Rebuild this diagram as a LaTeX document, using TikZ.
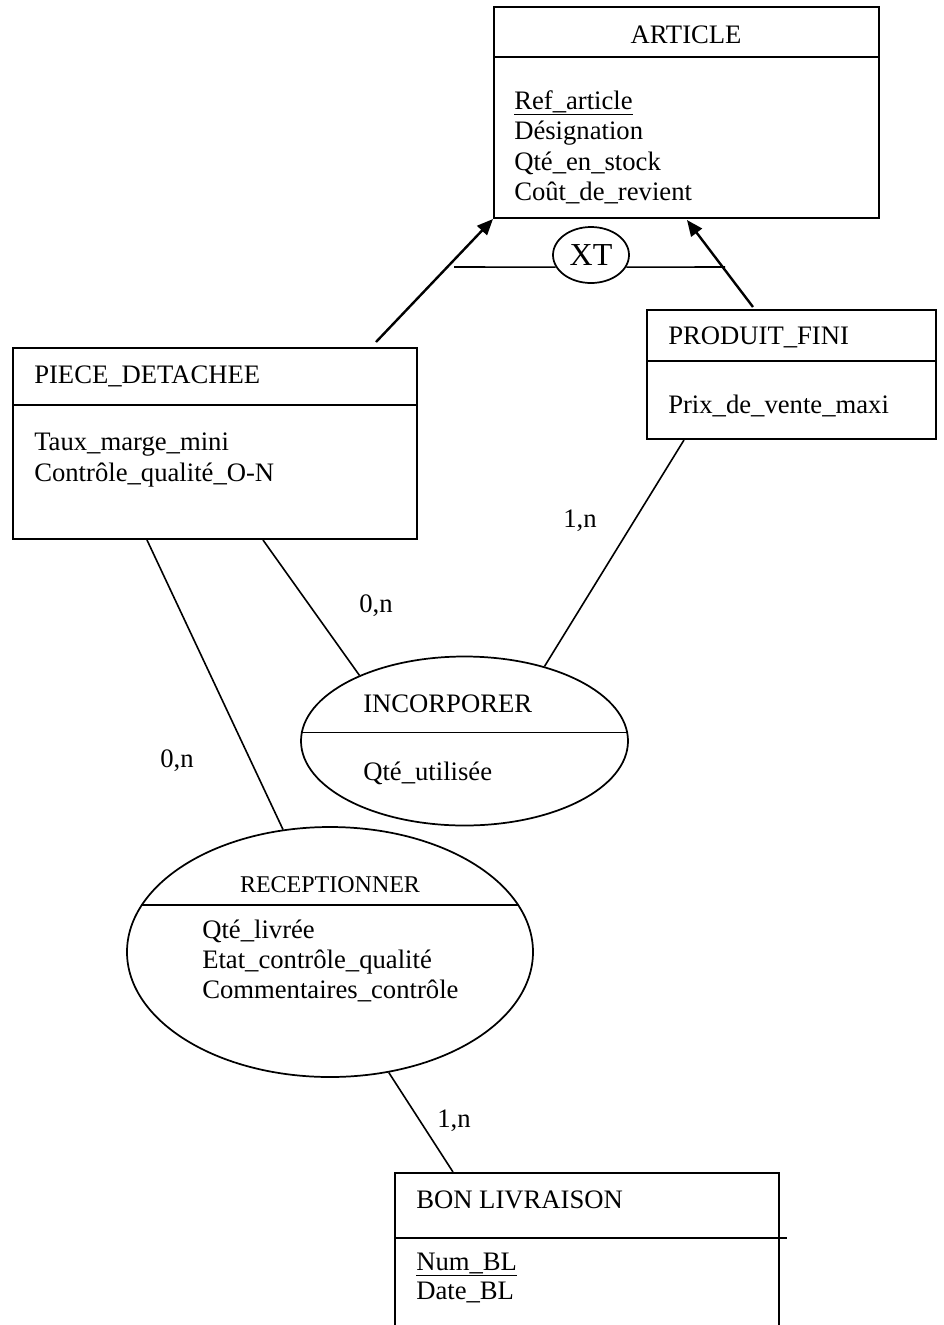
\documentclass[tikz,border=0pt]{standalone}
\usepackage{fontspec}
\setmainfont{Liberation Serif}
\usetikzlibrary{arrows.meta,fit,shapes.geometric,calc}

\begin{document}
\begin{tikzpicture}[x=.75pt,y=-.75pt,
 ent/.style={draw,line width=1.5pt,inner sep=0pt},
 rel/.style={ellipse,draw,line width=1.3pt,inner sep=0pt},
 t/.style={inner sep=0pt,anchor=base west,font=\fontsize{20}{24}\selectfont},
 c/.style={inner sep=0pt,anchor=base,font=\fontsize{20}{24}\selectfont},
 l/.style={line width=1.2pt},
 a/.style={-{Triangle[length=12pt,width=10pt]},line width=1.8pt}]
\useasboundingbox (0,0) rectangle (944,1325);
\clip (0,0) rectangle (944,1325);
% entities
\node[ent,fit={(494,7) (879,218)}] (article) {};
\node[ent,fit={(13,348) (417,539)}] (piece) {};
\node[ent,fit={(647,310) (936,439)}] (produit) {};
\node[ent,fit={(395,1173) (779,1340)}] (bon) {};
\draw[ent] ($(article.north west)+(0,51)$) -- ($(article.north east)+(0,51)$);
\draw[ent] ($(piece.north west)+(0,58)$) -- ($(piece.north east)+(0,58)$);
\draw[ent] ($(produit.north west)+(0,52)$) -- ($(produit.north east)+(0,52)$);
\draw[ent] ($(bon.north west)+(0,66)$) -- ($(bon.north east)+(7,66)$);
% associations
\node[rel,minimum width=245.25pt,minimum height=126.75pt] (incorp) at (464.5,741) {};
\node[rel,minimum width=304.5pt,minimum height=187.5pt] (recep) at (330,952) {};
\node[rel,minimum width=57pt,minimum height=42pt,font=\fontsize{24}{28}\selectfont] (xt) at (591,255) {XT};
\draw[rel] (incorp.177) -- (incorp.3);
\draw[rel] (recep.166) -- (recep.14);
% texts
\node[c] (articleT) at (686,43) {ARTICLE};
\node[t] (articleA) at (514,109) {\underline{Ref\_article}};
\node[t] (articleB) at (514,139) {Désignation};
\node[t] (articleC) at (514,170) {Qté\_en\_stock};
\node[t] (articleD) at (514,200) {Coût\_de\_revient};
\node[t] (pieceT) at (34,383) {PIECE\_DETACHEE};
\node[t] (pieceA) at (34,450) {Taux\_marge\_mini};
\node[t] (pieceB) at (34,481) {Contrôle\_qualité\_O-N};
\node[t] (produitT) at (668,344) {PRODUIT\_FINI};
\node[t] (produitA) at (668,413) {Prix\_de\_vente\_maxi};
\node[t] (incorpT) at (363,712) {INCORPORER};
\node[t] (incorpA) at (363,780) {Qté\_utilisée};
\node[c,font=\fontsize{18}{22}\selectfont] (recepT) at (330,892) {RECEPTIONNER};
\node[t] (recepA) at (202,938) {Qté\_livrée};
\node[t] (recepB) at (202,968) {Etat\_contrôle\_qualité};
\node[t] (recepC) at (202,998) {Commentaires\_contrôle};
\node[t] (bonT) at (416,1208) {BON LIVRAISON};
\node[t] (bonA) at (416,1270) {\underline{Num\_BL}};
\node[t] (bonB) at (416,1299) {Date\_BL};
% cardinalities
\node[c] (card1) at (376,612) {0,n};
\node[c] (card2) at (177,767) {0,n};
\node[c] (card3) at (580,527) {1,n};
\node[c] (card4) at (454,1127) {1,n};
% links
\coordinate (xtl) at (454,267);
\coordinate (xtr) at (725,267);
\draw[l] (xtl) -- (xt.199);
\draw[l] (xt.341) -- (xtr);
\draw[a] ($(piece.north west)+(364,-5)$) -- (article.south west);
\draw[a] ($(produit.north west)+(107,-2)$) -- ($(article.south west)+(194,1)$);
\draw[l] ($(piece.south west)+(135,0)$) -- (recep.111);
\draw[l] ($(piece.south west)+(251,0)$) -- (incorp.148);
\draw[l] ($(produit.south west)+(38,0)$) -- (incorp.43);
\draw[l] (recep.296) -- ($(bon.north west)+(59,0)$);
\end{tikzpicture}
\end{document}
